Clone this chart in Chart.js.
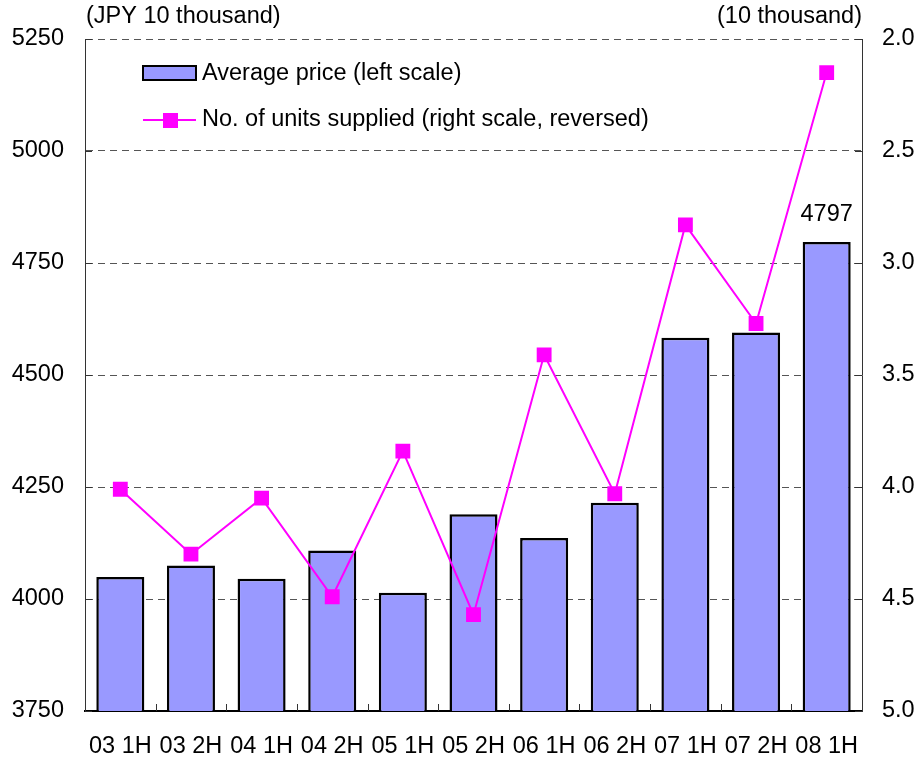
<!DOCTYPE html>
<html>
<head>
<meta charset="utf-8">
<script src="https://cdn.jsdelivr.net/npm/chart.js@4.4.0/dist/chart.umd.min.js"></script>
<style>
  body { margin: 0; background: #fff; }
  #wrap { width: 916px; height: 758px; }
</style>
</head>
<body>
<div id="wrap"><canvas id="priceChart" width="916" height="758"></canvas></div>
<script>
// Half-year periods
const periods = ['03 1H', '03 2H', '04 1H', '04 2H', '05 1H', '05 2H', '06 1H', '06 2H', '07 1H', '07 2H', '08 1H'];
// Average price, JPY 10 thousand (left scale)
const avgPrice = [4049, 4075, 4045, 4108, 4014, 4189, 4136, 4215, 4583, 4595, 4797];
// Units supplied, 10 thousand (right scale, reversed)
const unitsSupplied = [4.01, 4.30, 4.05, 4.49, 3.84, 4.57, 3.41, 4.03, 2.83, 3.27, 2.15];
// Tick labels
const priceTicks = [3750, 4000, 4250, 4500, 4750, 5000, 5250];
const unitTicks = [2.0, 2.5, 3.0, 3.5, 4.0, 4.5, 5.0];

const leftUnit = '(JPY 10 thousand)';
const rightUnit = '(10 thousand)';
const barLabel = 'Average price (left scale)';
const lineLabel = 'No. of units supplied (right scale, reversed)';

const FONT = '"Liberation Sans", Arial, sans-serif';
const FONT_SIZE = 23.5;
const BAR_COLOR = '#9999FF';
const LINE_COLOR = '#FF00FF';

Chart.defaults.font.family = FONT;
Chart.defaults.font.size = FONT_SIZE;
Chart.defaults.color = '#000';

// legend, unit captions, inward ticks and the last bar's value
const overlay = {
    id: 'overlay',
    afterDraw(chart) {
        const { ctx, chartArea: a } = chart;
        const x = chart.scales.x;
        const y = chart.scales.y;
        const y2 = chart.scales.y2;
        ctx.save();
        ctx.font = FONT_SIZE + 'px ' + FONT;
        ctx.fillStyle = '#000';
        ctx.textBaseline = 'middle';

        // unit captions
        ctx.textAlign = 'left';
        ctx.fillText(leftUnit, a.left + 1, 17);
        ctx.textAlign = 'right';
        ctx.fillText(rightUnit, a.right, 17);

        // small inward ticks
        ctx.strokeStyle = '#333';
        ctx.lineWidth = 1;
        ctx.beginPath();
        for (let i = 1; i < periods.length; i++) {
            const px = Math.round((x.getPixelForValue(i - 1) + x.getPixelForValue(i)) / 2) + 0.5;
            ctx.moveTo(px, a.bottom);
            ctx.lineTo(px, a.bottom - 7);
        }
        priceTicks.forEach(v => {
            const py = Math.round(y.getPixelForValue(v)) + 0.5;
            ctx.moveTo(a.left, py);
            ctx.lineTo(a.left + 7, py);
        });
        unitTicks.forEach(v => {
            const py = Math.round(y2.getPixelForValue(v)) + 0.5;
            ctx.moveTo(a.right, py);
            ctx.lineTo(a.right - 7, py);
        });
        ctx.stroke();

        // legend
        ctx.fillStyle = BAR_COLOR;
        ctx.fillRect(143, 66, 53, 14);
        ctx.strokeStyle = '#000';
        ctx.lineWidth = 2;
        ctx.strokeRect(143, 66, 53, 14);
        ctx.fillStyle = '#000';
        ctx.textAlign = 'left';
        ctx.fillText(barLabel, 202, 74);

        ctx.strokeStyle = LINE_COLOR;
        ctx.lineWidth = 2;
        ctx.beginPath();
        ctx.moveTo(143, 120);
        ctx.lineTo(196, 120);
        ctx.stroke();
        ctx.fillStyle = LINE_COLOR;
        ctx.fillRect(163, 113, 15, 15);
        ctx.fillStyle = '#000';
        ctx.fillText(lineLabel, 202, 120);

        // value over the last bar
        const bars = chart.getDatasetMeta(0).data;
        const last = bars[bars.length - 1];
        ctx.textAlign = 'center';
        ctx.fillText(String(avgPrice[avgPrice.length - 1]), last.x, last.y - 27);
        ctx.restore();
    }
};

const ctx = document.getElementById('priceChart').getContext('2d');
new Chart(ctx, {
    data: {
        labels: periods,
        datasets: [
            {
                type: 'bar',
                label: barLabel,
                data: avgPrice,
                yAxisID: 'y',
                backgroundColor: BAR_COLOR,
                borderColor: '#000',
                borderWidth: 2.5,
                barPercentage: 0.68,
                categoryPercentage: 1,
                order: 2
            },
            {
                type: 'line',
                label: lineLabel,
                data: unitsSupplied,
                yAxisID: 'y2',
                borderColor: LINE_COLOR,
                backgroundColor: LINE_COLOR,
                borderWidth: 2,
                pointStyle: 'rect',
                pointRadius: 10.5,
                pointBorderWidth: 0,
                tension: 0,
                order: 1
            }
        ]
    },
    options: {
        responsive: false,
        animation: false,
        layout: { padding: { top: 39, left: 0, right: 0, bottom: 0 } },
        plugins: {
            legend: { display: false },
            tooltip: { enabled: false }
        },
        scales: {
            x: {
                offset: true,
                grid: { display: false },
                border: { display: true, color: '#000', width: 2 },
                ticks: { padding: 13, maxRotation: 0, autoSkip: false },
                afterFit: s => { s.height = 47; }
            },
            y: {
                position: 'left',
                min: 3750,
                max: 5250,
                afterBuildTicks: s => { s.ticks = priceTicks.map(v => ({ value: v })); },
                grid: { color: '#555', lineWidth: 1, drawTicks: false },
                border: { display: true, color: '#333', width: 1, dash: [7, 5] },
                ticks: { padding: 21, callback: v => String(v) },
                afterFit: s => { s.width = 85; }
            },
            y2: {
                position: 'right',
                min: 2,
                max: 5,
                reverse: true,
                afterBuildTicks: s => { s.ticks = unitTicks.map(v => ({ value: v })); },
                grid: { display: false, drawTicks: false },
                border: { display: true, color: '#333', width: 1 },
                ticks: { padding: 20, callback: v => v.toFixed(1) },
                afterFit: s => { s.width = 54; }
            }
        }
    },
    plugins: [overlay]
});
</script>
</body>
</html>
